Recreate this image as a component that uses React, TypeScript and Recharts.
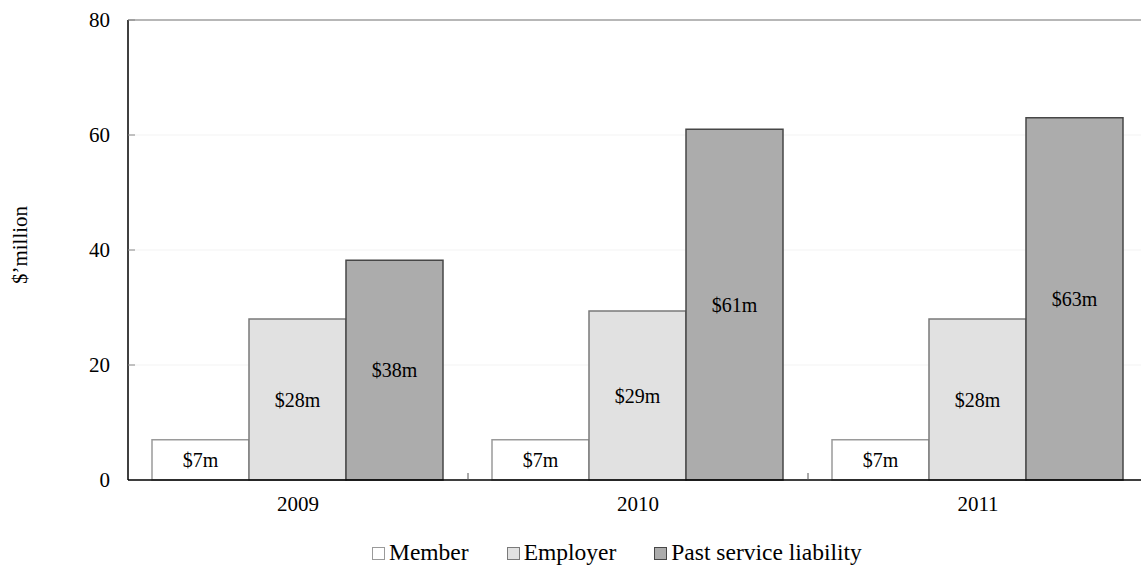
import React from 'react';
import { BarChart, Bar, XAxis, YAxis, CartesianGrid, ReferenceLine, LabelList, Label } from 'recharts';

const years = ['2009', '2010', '2011'];
const member = [7, 7, 7];
const employer = [28, 29.4, 28];
const pastService = [38.2, 61, 63];
const yTicks = [0, 20, 40, 60, 80];

const seriesNames = ['Member', 'Employer', 'Past service liability'];
const seriesFills = ['#ffffff', '#e1e1e1', '#acacac'];
const seriesStrokes = ['#9a9a9a', '#7a7a7a', '#474747'];

const FONT = 'Liberation Serif, Tinos, Times New Roman, Times, DejaVu Serif, serif';
const CHART_W = 1160;
const CHART_H = 567;
const AXIS_W = 128;
const MARGIN_RIGHT = 12;
const BAND = (CHART_W - AXIS_W - MARGIN_RIGHT) / years.length;

const data = years.map((year, i) => ({
  year,
  member: member[i],
  employer: employer[i],
  past: pastService[i],
}));

const fmtMillion = (v: unknown) => `$${Math.round(Number(v))}m`;

function YTick(props: any) {
  const { x, y, payload } = props;
  return (
    <g>
      <text x={x - 18} y={y} dy={7} textAnchor="end" style={{ fontSize: 21, fontFamily: FONT }} fill="#000">
        {payload.value}
      </text>
      {payload.value !== 0 && (
        <line x1={x} x2={x + 7} y1={y} y2={y} stroke="#888" strokeWidth={1} />
      )}
    </g>
  );
}

function XTick(props: any) {
  const { x, y, payload, index } = props;
  return (
    <g>
      <text x={x} y={y} dy={31} textAnchor="middle" style={{ fontSize: 21, fontFamily: FONT }} fill="#000">
        {payload.value}
      </text>
      {index < years.length - 1 && (
        <line x1={x + BAND / 2} x2={x + BAND / 2} y1={y - 7} y2={y} stroke="#555" strokeWidth={1} />
      )}
    </g>
  );
}

function ChartLegend() {
  return (
    <div
      style={{
        position: 'absolute',
        top: 540,
        left: 372,
        display: 'flex',
        gap: 38,
        fontFamily: FONT,
        fontSize: 23.5,
        color: '#000',
        whiteSpace: 'nowrap',
      }}
    >
      {seriesNames.map((name, i) => (
        <div key={name} style={{ display: 'flex', alignItems: 'center', lineHeight: '24px' }}>
          <span
            style={{
              display: 'inline-block',
              width: 11,
              height: 11,
              background: seriesFills[i],
              border: `1px solid ${seriesStrokes[i]}`,
              marginRight: 4,
              marginTop: 3,
            }}
          />
          <span>{name}</span>
        </div>
      ))}
    </div>
  );
}

export default function App() {
  return (
    <div style={{ position: 'absolute', left: 0, top: 0, width: 1141, height: 567, overflow: 'hidden', background: '#fff', fontFamily: FONT }}>
      <BarChart
        width={CHART_W}
        height={CHART_H}
        data={data}
        margin={{ top: 20, right: MARGIN_RIGHT, left: 0, bottom: 0 }}
        barCategoryGap={24}
        barGap={0}
        style={{ fontFamily: FONT }}
      >
        <CartesianGrid vertical={false} stroke="#f3f3f3" />
        <ReferenceLine y={80} stroke="#a0a0a0" strokeWidth={1.5} />
        <XAxis
          dataKey="year"
          height={87}
          tickSize={0}
          tickMargin={0}
          tickLine={false}
          axisLine={{ stroke: '#000', strokeWidth: 1.5 }}
          tick={<XTick />}
        />
        <YAxis
          width={AXIS_W}
          domain={[0, 80]}
          ticks={yTicks}
          tickSize={0}
          tickMargin={0}
          tickLine={false}
          axisLine={{ stroke: '#000', strokeWidth: 1.5 }}
          tick={<YTick />}
        >
          <Label
            content={() => (
              <text
                x={27}
                y={245}
                transform="rotate(-90 27 245)"
                textAnchor="middle"
                style={{ fontSize: 21, fontFamily: FONT }}
                fill="#000"
              >
                $’million
              </text>
            )}
          />
        </YAxis>
        <Bar dataKey="member" name={seriesNames[0]} fill={seriesFills[0]} stroke={seriesStrokes[0]} strokeWidth={1.5} isAnimationActive={false}>
          <LabelList dataKey="member" position="center" formatter={fmtMillion} style={{ fontSize: 20, fontFamily: FONT }} fill="#000" />
        </Bar>
        <Bar dataKey="employer" name={seriesNames[1]} fill={seriesFills[1]} stroke={seriesStrokes[1]} strokeWidth={1.5} isAnimationActive={false}>
          <LabelList dataKey="employer" position="center" formatter={fmtMillion} style={{ fontSize: 20, fontFamily: FONT }} fill="#000" />
        </Bar>
        <Bar dataKey="past" name={seriesNames[2]} fill={seriesFills[2]} stroke={seriesStrokes[2]} strokeWidth={1.5} isAnimationActive={false}>
          <LabelList dataKey="past" position="center" formatter={fmtMillion} style={{ fontSize: 20, fontFamily: FONT }} fill="#000" />
        </Bar>
      </BarChart>
      <ChartLegend />
    </div>
  );
}
